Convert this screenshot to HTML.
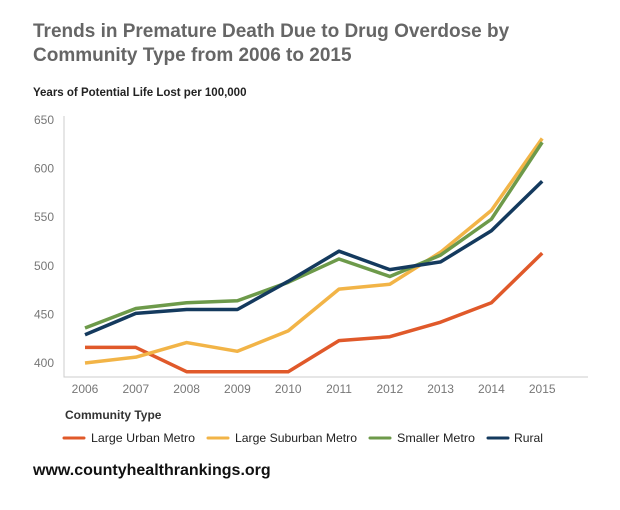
<!DOCTYPE html>
<html><head><meta charset="utf-8"><style>
body{margin:0;background:#fff;font-family:"Liberation Sans",sans-serif;}
#wrap{position:relative;width:620px;height:510px;overflow:hidden;}
.t{position:absolute;white-space:nowrap;}
</style></head><body>
<div id="wrap">
<div class="t" style="left:33px;top:20px;font-size:19px;font-weight:bold;color:#666;line-height:24px;">Trends in Premature Death Due to Drug Overdose by<br>Community Type from 2006 to 2015</div>
<div class="t" style="left:33px;top:87px;font-size:11.5px;font-weight:bold;color:#222;">Years of Potential Life Lost per 100,000</div>
<svg id="svg" width="620" height="510" style="position:absolute;left:0;top:0"></svg>
<div class="t" style="left:65px;top:408px;font-size:12px;font-weight:bold;color:#333;">Community Type</div>
<div class="t" style="left:33px;top:462px;font-size:16px;font-weight:bold;color:#111;">www.countyhealthrankings.org</div>
</div>
<script>
const years=["2006","2007","2008","2009","2010","2011","2012","2013","2014","2015"];
const yTicks=[400,450,500,550,600,650];
const seriesNames=["Large Urban Metro","Large Suburban Metro","Smaller Metro","Rural"];
const colors=["#e0592a","#f2b447","#6d9a4a","#143a5e"];
const urban=[415,415,390,390,390,422,426,441,461,512];
const suburban=[399,405,420,411,432,475,480,513,556,630];
const smaller=[435,455,461,463,482,506,488,510,547,626];
const rural=[428,450,454,454,483,514,495,503,535,586];
const allSeries=[urban,suburban,smaller,rural];
const NS="http://www.w3.org/2000/svg";
const svg=document.getElementById('svg');
const x=i=>85+i*50.8;
const y=v=>362-(v-400)*0.972;
function el(t,a){const e=document.createElementNS(NS,t);for(const k in a)e.setAttribute(k,a[k]);svg.appendChild(e);return e;}
let ax=el('path',{d:'M64,116 V377 H588',fill:'none',stroke:'#ccc','stroke-width':1});


yTicks.forEach(v=>{const t=el('text',{x:34,y:y(v)+5,'font-size':12,fill:'#777','font-family':'Liberation Sans'});t.textContent=v;

});
years.forEach((yr,i)=>{const t=el('text',{x:x(i),y:393,'font-size':12,fill:'#777','text-anchor':'middle','font-family':'Liberation Sans'});t.textContent=yr;

});
allSeries.forEach((s,k)=>{const p=el('polyline',{points:s.map((v,i)=>x(i)+','+y(v)).join(' '),fill:'none',stroke:colors[k],'stroke-width':3.5,'stroke-linejoin':'round'});

});
const lx=[64,208,370,488];
const tx=[91,235,397,514];
const tw=[104,122,78,29];
seriesNames.forEach((n,k)=>{el('line',{x1:lx[k],x2:lx[k]+20,y1:438,y2:438,stroke:colors[k],'stroke-width':3,'stroke-linecap':'round'});
const t=el('text',{x:tx[k],y:442,'font-size':12,fill:'#222','font-family':'Liberation Sans',textLength:tw[k],lengthAdjust:'spacingAndGlyphs'});t.textContent=n;

});
</script>
</body></html>
